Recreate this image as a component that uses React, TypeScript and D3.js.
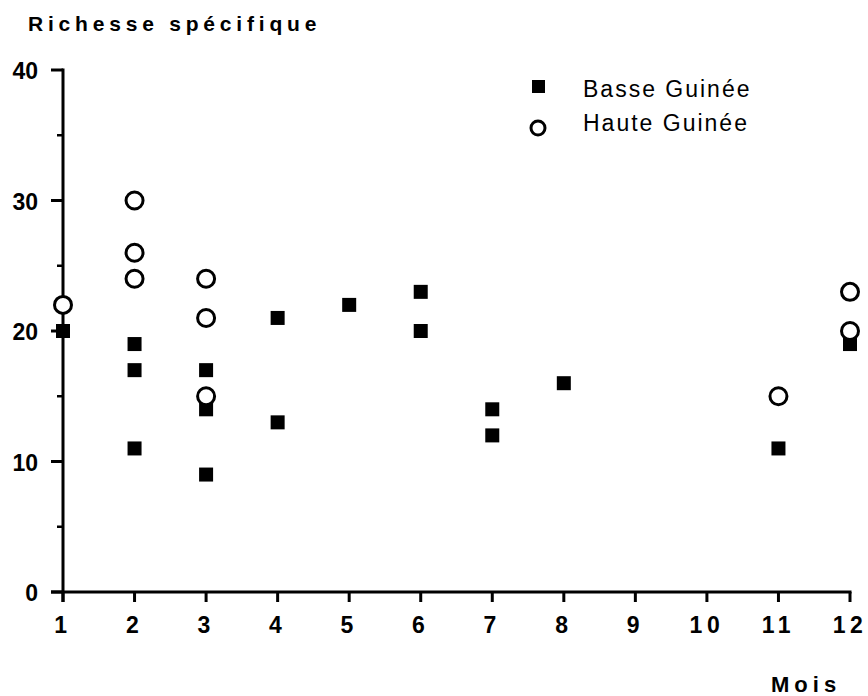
import React from "react";
import * as d3 from "d3";

// Monthly species richness samples
const basseMonths = [1, 2, 2, 2, 3, 3, 3, 4, 4, 5, 6, 6, 7, 7, 8, 11, 12];
const basseValues = [20, 19, 17, 11, 17, 14, 9, 21, 13, 22, 23, 20, 14, 12, 16, 11, 19];
const hauteMonths = [1, 2, 2, 2, 3, 3, 3, 11, 12, 12];
const hauteValues = [22, 30, 26, 24, 24, 21, 15, 15, 23, 20];

const monthTicks = [1, 2, 3, 4, 5, 6, 7, 8, 9, 10, 11, 12];
const richnessTicks = [0, 10, 20, 30, 40];
const minorTicks = [5, 15, 25, 35];
const legendLabels = ["Basse Guinée", "Haute Guinée"];

const W = 868;
const H = 696;
const FONT = "'Liberation Sans', Arial, Helvetica, sans-serif";

export default function App() {
  const x = d3.scaleLinear().domain([1, 12]).range([63, 850]);
  const y = d3.scaleLinear().domain([0, 40]).range([592, 70]);
  const sq = 14;
  const r = 8.5;
  const xSpacing = 4.5;

  return (
    <svg
      width={W}
      height={H}
      style={{ position: "absolute", left: 0, top: 0, background: "#fff" }}
    >
      <text x={28} y={31} fontFamily={FONT} fontWeight="bold" fontSize={21} letterSpacing={4.8} fill="#000">
        Richesse  spécifique
      </text>

      {/* y axis */}
      <line x1={x(1)} x2={x(1)} y1={y(40) - 1.5} y2={y(0) + 10} stroke="#000" strokeWidth={3} />
      {richnessTicks.map((t) => (
        <g key={"y" + t}>
          <line x1={x(1) - 12} x2={x(1)} y1={y(t)} y2={y(t)} stroke="#000" strokeWidth={3} />
          <text x={38} y={y(t) + 9} textAnchor="end" fontFamily={FONT} fontWeight="bold" fontSize={23} fill="#000">
            {t}
          </text>
        </g>
      ))}
      {minorTicks.map((t) => (
        <line key={"m" + t} x1={x(1) - 6} x2={x(1)} y1={y(t)} y2={y(t)} stroke="#000" strokeWidth={2.5} />
      ))}

      {/* x axis */}
      <line x1={x(1) - 12} x2={x(12) + 1.5} y1={y(0)} y2={y(0)} stroke="#000" strokeWidth={3} />
      {monthTicks.map((m) => (
        <g key={"x" + m}>
          <line x1={x(m)} x2={x(m)} y1={y(0)} y2={y(0) + 10} stroke="#000" strokeWidth={3} />
          <text
            x={x(m)}
            y={y(0) + 41}
            textAnchor="middle"
            fontFamily={FONT}
            fontWeight="bold"
            fontSize={23}
            letterSpacing={xSpacing}
            fill="#000"
          >
            {m}
          </text>
        </g>
      ))}
      <text x={771} y={692} fontFamily={FONT} fontWeight="bold" fontSize={22} letterSpacing={5} fill="#000">
        Mois
      </text>

      {/* Basse Guinée */}
      {basseMonths.map((m, i) => (
        <rect
          key={"b" + i}
          x={x(m) - sq / 2}
          y={y(basseValues[i]) - sq / 2}
          width={sq}
          height={sq}
          fill="#000"
        />
      ))}

      {/* Haute Guinée */}
      {hauteMonths.map((m, i) => (
        <circle
          key={"h" + i}
          cx={x(m)}
          cy={y(hauteValues[i])}
          r={r}
          fill="#fff"
          stroke="#000"
          strokeWidth={3}
        />
      ))}

      {/* legend */}
      <rect x={532} y={80} width={13} height={13} fill="#000" />
      <text x={583} y={97} fontFamily={FONT} fontSize={23} letterSpacing={2} fill="#000">
        {legendLabels[0]}
      </text>
      <circle cx={538} cy={128} r={7} fill="#fff" stroke="#000" strokeWidth={3} />
      <text x={583} y={131} fontFamily={FONT} fontSize={23} letterSpacing={2} fill="#000">
        {legendLabels[1]}
      </text>
    </svg>
  );
}
